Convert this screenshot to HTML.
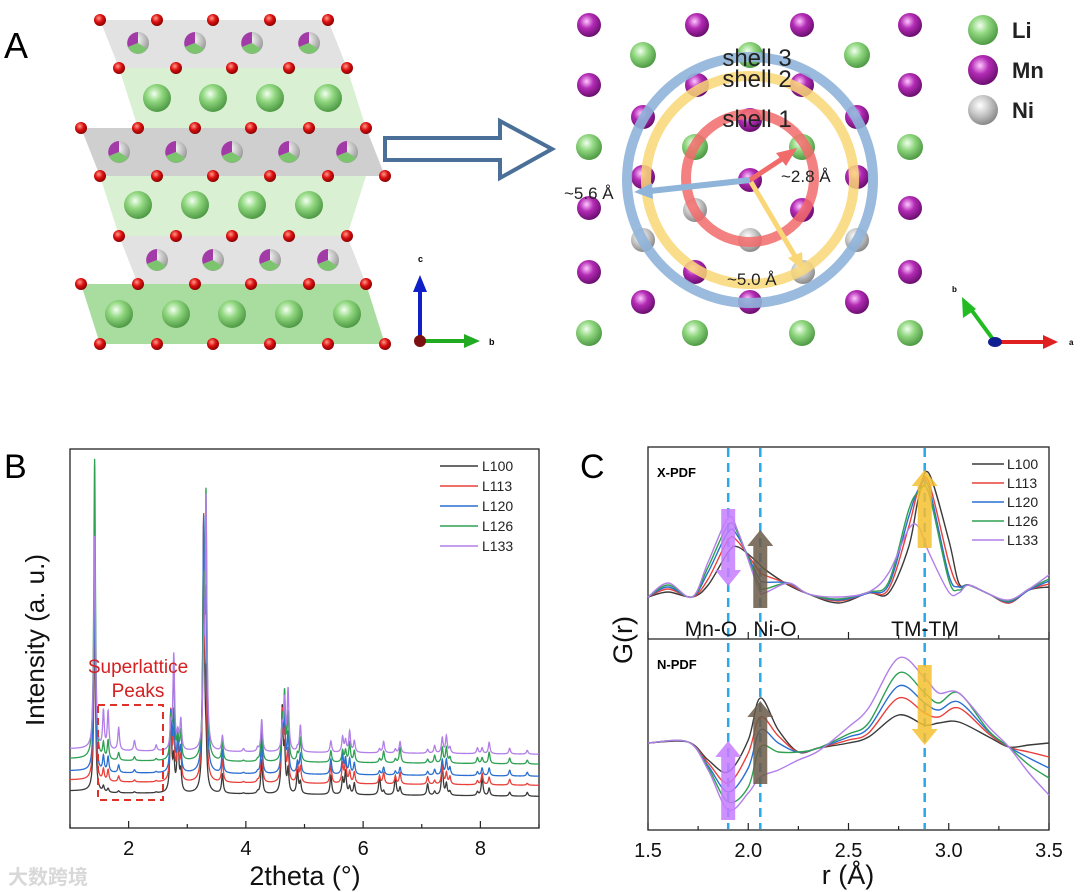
<!DOCTYPE html>
<html><head><meta charset="utf-8">
<style>
body{margin:0;background:#fff;}
svg{display:block;font-family:"Liberation Sans","Noto Sans CJK SC",sans-serif;}
</style></head>
<body>
<svg id="fig" width="1080" height="892" viewBox="0 0 1080 892" xmlns="http://www.w3.org/2000/svg">
<defs>
<radialGradient id="gLi" cx="40%" cy="35%" r="65%"><stop offset="0" stop-color="#f2fff0"/><stop offset=".45" stop-color="#8fd67e"/><stop offset="1" stop-color="#4f9a45"/></radialGradient>
<radialGradient id="gMn" cx="40%" cy="35%" r="65%"><stop offset="0" stop-color="#ffc8ff"/><stop offset=".45" stop-color="#b32bb5"/><stop offset="1" stop-color="#6c0f70"/></radialGradient>
<radialGradient id="gNi" cx="40%" cy="35%" r="65%"><stop offset="0" stop-color="#ffffff"/><stop offset=".5" stop-color="#c8c8c8"/><stop offset="1" stop-color="#8a8a8a"/></radialGradient>
<radialGradient id="gO" cx="40%" cy="35%" r="65%"><stop offset="0" stop-color="#ff9a8a"/><stop offset=".5" stop-color="#dd1111"/><stop offset="1" stop-color="#8a0000"/></radialGradient>
<radialGradient id="gTM" cx="40%" cy="35%" r="65%"><stop offset="0" stop-color="#ffffff"/><stop offset="1" stop-color="#9a9a9a"/></radialGradient>
</defs>

<text x="4" y="58" font-size="36">A</text>
<text x="4" y="478" font-size="34">B</text>
<text x="580" y="478" font-size="34">C</text>

<g id="panelA-left">
  <polygon points="100,20 328,20 347,68 119,68" fill="#e2e2e2"/>
  <polygon points="119,68 347,68 366,128 138,128" fill="#d9f0d3"/>
  <polygon points="81,128 366,128 385,176 100,176" fill="#cfcfcf"/>
  <polygon points="100,176 366,176 347,236 119,236" fill="#d9f0d3"/>
  <polygon points="119,236 347,236 366,284 138,284" fill="#e2e2e2"/>
  <polygon points="81,284 366,284 385,344 100,344" fill="#a9dc9f"/>
  <g id="structAtoms"></g>
</g>
<g>
  <line x1="420" y1="341" x2="420" y2="290" stroke="#1020c8" stroke-width="4"/>
  <polygon points="413,292 427,292 420,275" fill="#1020c8"/>
  <line x1="420" y1="341" x2="466" y2="341" stroke="#22aa22" stroke-width="4"/>
  <polygon points="464,334 464,348 480,341" fill="#22aa22"/>
  <circle cx="420" cy="341" r="6" fill="#7a1010"/>
  <text x="418" y="262" font-size="9" font-weight="bold">c</text>
  <text x="489" y="345" font-size="9" font-weight="bold">b</text>
</g>
<polygon points="385,138 500,138 500,121 552,149 500,178 500,160 385,160" fill="#fff" stroke="#4a6f98" stroke-width="4"/>

<g id="panelA-right">
  <g id="latAtoms"></g>
  <circle cx="750" cy="180" r="123" fill="none" stroke="#8fb4d9" stroke-width="10" opacity=".9"/>
  <circle cx="750" cy="180" r="104" fill="none" stroke="#f9d776" stroke-width="10" opacity=".85"/>
  <circle cx="750" cy="178" r="64" fill="none" stroke="#f26b6b" stroke-width="10" opacity=".85"/>
  <line x1="750" y1="180" x2="785" y2="157" stroke="#f26b6b" stroke-width="5"/>
  <polygon points="776,153 797,148 786,166" fill="#f26b6b"/>
  <line x1="750" y1="180" x2="650" y2="191" stroke="#8fb4d9" stroke-width="6"/>
  <polygon points="652,183 634,192 653,199" fill="#8fb4d9"/>
  <line x1="751" y1="182" x2="796" y2="258" stroke="#f9d776" stroke-width="5"/>
  <polygon points="788,258 803,270 802,252" fill="#f9d776"/>
  <text x="757" y="66" font-size="24" text-anchor="middle" fill="#222">shell 3</text>
  <text x="757" y="87" font-size="24" text-anchor="middle" fill="#222">shell 2</text>
  <text x="757" y="127" font-size="24" text-anchor="middle" fill="#222">shell 1</text>
  <text x="781" y="182" font-size="17" fill="#222">~2.8 Å</text>
  <text x="564" y="199" font-size="17" fill="#222">~5.6 Å</text>
  <text x="727" y="285" font-size="17" fill="#222">~5.0 Å</text>
</g>
<g>
  <circle cx="983" cy="30" r="15" fill="url(#gLi)"/><text x="1012" y="38" font-size="22" font-weight="bold" fill="#222">Li</text>
  <circle cx="983" cy="70" r="15" fill="url(#gMn)"/><text x="1012" y="78" font-size="22" font-weight="bold" fill="#222">Mn</text>
  <circle cx="983" cy="110" r="15" fill="url(#gNi)"/><text x="1012" y="118" font-size="22" font-weight="bold" fill="#222">Ni</text>
</g>
<g>
  <line x1="995" y1="342" x2="1045" y2="342" stroke="#e02020" stroke-width="4"/>
  <polygon points="1043,335 1043,349 1058,342" fill="#e02020"/>
  <line x1="995" y1="342" x2="970" y2="308" stroke="#22bb22" stroke-width="4"/>
  <polygon points="963,318 976,309 962,297" fill="#22bb22"/>
  <ellipse cx="995" cy="342" rx="7" ry="5" fill="#102090"/>
  <text x="952" y="292" font-size="8" font-weight="bold">b</text>
  <text x="1069" y="345" font-size="8" font-weight="bold">a</text>
</g>

<g id="panelB">
  <rect x="70" y="449" width="469" height="379" fill="none" stroke="#222" stroke-width="1.3"/>
  <g id="bTicks"></g>
  <g id="bSeries"></g>
  <rect x="98" y="705" width="65" height="95" fill="none" stroke="#e0302a" stroke-width="2" stroke-dasharray="7,5"/>
  <text x="138" y="673" font-size="19" fill="#d42020" text-anchor="middle">Superlattice</text>
  <text x="138" y="697" font-size="19" fill="#d42020" text-anchor="middle">Peaks</text>
  <text transform="translate(44,640) rotate(-90)" font-size="26" text-anchor="middle" fill="#111">Intensity (a. u.)</text>
  <text x="305" y="885" font-size="27" text-anchor="middle" fill="#111">2theta (°)</text>
  <g id="bLegend"></g>
</g>
<text x="8" y="884" font-size="20" fill="#d8d8d8" font-weight="bold">大数跨境</text>

<g id="panelC">
  <rect x="648" y="447" width="401" height="383" fill="none" stroke="#222" stroke-width="1.3"/>
  <line x1="648" y1="639" x2="1049" y2="639" stroke="#222" stroke-width="1.3"/>
  <g id="cTicks"></g>
  <g id="cDashed"></g>
  <g id="cSeries"></g>
  <g id="cArrows"></g>
  <text x="657" y="477" font-size="13" font-weight="bold">X-PDF</text>
  <text x="657" y="669" font-size="13" font-weight="bold">N-PDF</text>
  <text x="711" y="636" font-size="21" text-anchor="middle" fill="#111">Mn-O</text>
  <text x="775" y="636" font-size="21" text-anchor="middle" fill="#111">Ni-O</text>
  <text x="925" y="636" font-size="21" text-anchor="middle" fill="#111">TM-TM</text>
  <text transform="translate(632,640) rotate(-90)" font-size="27" text-anchor="middle" fill="#111">G(r)</text>
  <text x="848" y="884" font-size="27" text-anchor="middle" fill="#111">r (Å)</text>
  <g id="cLegend"></g>
</g>
</svg>
<script>
// ===== Panel B data =====
const seriesNames = ["L100","L113","L120","L126","L133"];
const seriesColors = ["#3a3a3a","#e8403a","#2a6fd0","#2ea052","#b27ee8"];
const peakPos = [1.42,1.57,1.65,1.83,2.10,2.47,2.72,2.77,2.84,2.89,3.28,3.32,3.60,3.96,4.20,4.27,4.62,4.66,4.72,4.88,4.93,5.45,5.65,5.70,5.77,5.85,6.28,6.35,6.55,6.63,7.10,7.22,7.35,7.42,7.48,7.95,8.03,8.15,8.5,8.8];
const hL100 = [45,1.5,1,0.5,0.3,0.2,21,8,16,5,71,8,5,0.2,0.5,9,22,10,6,6,3,5,4,6,2,3,5,1,5,2,3,1,8,3,1,1,5,2,1,1];
const hL113 = [48,3,3,1.5,0.5,0.3,18,12,12,6,68,20,6,0.3,0.5,10,18,12,8,5,4,5,5,6,3,3,2,3,2,3,2,1,5,3,2,1,3,2,1.5,0.5];
const hL120 = [50,4,4,2,0.8,0.3,15,15,10,6,62,40,6,0.3,0.5,10,14,14,10,3,5,4,5,4,4,3,1,2,1,2,1,1.5,4,4,2,1,2,2,1.5,1];
const hL126 = [79,4,5,2,1,0.5,10,24,6,7,40,66,5,0.3,0.5,10,10,17,12,2,6,3,3,3,5,3,1,3,1,4,1,2,4,4,1.5,1.5,1.5,3,1.5,1];
const hL133 = [56,10,10,6,2.7,1.5,6,25,4,8,20,65,4,0.8,1,8.5,6,13,16,1,7,3,4,3,5.5,3,1,3,1,3,1,2,4,4.5,1.5,1.5,1.5,3,1.5,1];
const baseLevels = [9.2,12.1,14.5,17.7,20.3];
const xrdTicks = [2,4,6,8];

// ===== Panel C data =====
const rX = [1.5,1.6,1.72,1.8,1.9,1.95,2.05,2.08,2.2,2.3,2.45,2.6,2.7,2.8,2.85,2.9,3.0,3.05,3.1,3.2,3.3,3.4,3.5];
const gX100 = [0,5,0,12,45,50,34,28,12,3,-6,4,4,50,100,124,57,14,12,3,-6,7,10];
const gX113 = [0,8,0,18,57,55,27,22,13,3,-4,4,8,70,108,115,35,11,12,3,-6,7,13];
const gX120 = [0,10,0,25,65,60,20,15,14,3,-3,4,12,80,108,110,22,10,12,3,-5,7,16];
const gX126 = [0,12,0,30,72,63,14,8,14,3,-2,5,15,87,105,104,17,7,12,3,-4,8,18];
const gX133 = [0,14,0,35,79,65,9,4,14,3,0,5,24,68,70,45,5,4,12,3,-3,8,22];
const rN = [1.5,1.7,1.8,1.9,2.0,2.06,2.15,2.25,2.35,2.5,2.6,2.75,2.88,2.95,3.05,3.2,3.3,3.4,3.5];
const gN100 = [0,1,-17,-29,3,45,13,-9,-5,0,6,28,18,20,21,6,-4,-2,0];
const gN113 = [0,1,-20,-40,-10,26,7,-9,-5,3,10,45,30,26,35,9,-4,-9,-14];
const gN120 = [0,1,-23,-49,-25,13,0,-9,-5,6,15,57,40,33,41,11,-4,-15,-25];
const gN126 = [0,1,-25,-59,-44,-4,-9,-9,-5,9,20,70,50,40,50,12,-4,-22,-35];
const gN133 = [0,1,-27,-67,-50,-34,-27,-17,-8,16,35,85,65,50,50,16,-4,-30,-52];
const pdfTicks = [1.5,2.0,2.5,3.0,3.5];
const refLines = [1.9,2.06,2.88];

const NS = "http://www.w3.org/2000/svg";
function mk(tag, attrs, parent){const e=document.createElementNS(NS,tag);for(const k in attrs)e.setAttribute(k,attrs[k]);parent.appendChild(e);return e;}

(function(){
  const g = document.getElementById('structAtoms');
  const liRows = [[98,[157,213,270,328]],[205,[138,195,252,309]],[314,[119,176,232,289,347]]];
  const tmRows = [[43,[138,195,252,309]],[152,[119,176,232,289,347]],[260,[157,213,270,328]]];
  const oRows = [[20,[100,157,213,270,328]],[68,[119,176,232,289,347]],[128,[81,138,195,251,309,366]],[176,[100,157,213,270,328,385]],[236,[119,176,232,289,347]],[284,[81,138,195,251,309,366]],[344,[100,157,213,270,328,385]]];
  liRows.forEach(([y,xs])=>xs.forEach(x=>{
    const c = mk('circle',{cx:x,cy:y,r:14,fill:'url(#gLi)'},g);
    
    
  }));
  tmRows.forEach(([y,xs])=>xs.forEach(x=>{
    const c = mk('circle',{cx:x,cy:y,r:11,fill:'url(#gTM)'},g);
    
    
    mk('path',{d:`M${x},${y} L${x},${y-11} A11,11 0 0 0 ${x-10},${y+4} Z`,fill:'#a23aa8'},g);
    mk('path',{d:`M${x},${y} L${x-10},${y+4} A11,11 0 0 0 ${x+9},${y+6} Z`,fill:'#7cc46e'},g);
  }));
  oRows.forEach(([y,xs])=>xs.forEach(x=>{
    const c = mk('circle',{cx:x,cy:y,r:6,fill:'url(#gO)'},g);
    
    
  }));
  const lg = document.getElementById('latAtoms');
  const mn = [[589,25],[697,25],[802,25],[910,25],[589,85],[697,85],[802,85],[910,85],[643,117],[750,120],[857,117],[643,177],[857,177],[750,180],[589,208],[910,208],[802,210],[643,302],[857,302],[750,302],[589,272],[695,272],[910,272]];
  const li = [[643,55],[857,55],[750,55],[589,147],[695,147],[802,147],[910,147],[589,333],[695,333],[802,333],[910,333]];
  const ni = [[643,240],[857,240],[750,240],[695,210],[803,272]];
  li.forEach(([x,y])=>{const c=mk('circle',{cx:x,cy:y,r:13,fill:'url(#gLi)'},lg);
    
    });
  mn.forEach(([x,y])=>{const c=mk('circle',{cx:x,cy:y,r:12,fill:'url(#gMn)'},lg);
    
    });
  ni.forEach(([x,y])=>{const c=mk('circle',{cx:x,cy:y,r:12,fill:'url(#gNi)'},lg);
    
    });
})();

const bX0=70,bX1=539,bY0=828,bY1=449;
function bx(v){return bX0+(v-1)/(9-1)*(bX1-bX0);}
function by(v){return bY0-v/100*(bY0-bY1);}
(function(){
  const t=document.getElementById('bTicks');
  for(let v=1;v<=9;v++){
    const major = v%2===0;
    const l=mk('line',{x1:bx(v),x2:bx(v),y1:bY0,y2:bY0-(major?7:4),stroke:'#222','stroke-width':1.2},t);
    
    
  }
  xrdTicks.forEach(v=>{
    const tx=mk('text',{x:bx(v),y:bY0+27,'font-size':20,'text-anchor':'middle',fill:'#111'},t);
    tx.textContent=v;
    
    
  });
  const heights=[hL100,hL113,hL120,hL126,hL133];
  const s=document.getElementById('bSeries');
  const gam=0.017;
  heights.forEach((h,si)=>{
    let d='';
    for(let x=1.0;x<=9.0001;x+=0.003){
      let v=baseLevels[si]-0.12*Math.max(0,x-2)+(x<1.45?0.6:0);
      for(let k=0;k<peakPos.length;k++){const dx=(x-peakPos[k])/gam;v+=h[k]/(1+dx*dx);}
      d+=(d?'L':'M')+bx(x).toFixed(2)+','+by(v).toFixed(2);
    }
    const p=mk('path',{d:d,fill:'none',stroke:seriesColors[si],'stroke-width':1.3},s);
    
    
  });
  const lg=document.getElementById('bLegend');
  seriesNames.forEach((n,i)=>{
    const y=466+i*20;
    const l=mk('line',{x1:440,x2:478,y1:y,y2:y,stroke:seriesColors[i],'stroke-width':1.5},lg);
    
    
    const tx=mk('text',{x:482,y:y+5,'font-size':14,fill:'#222'},lg);
    tx.textContent=n;
    
    
  });
})();

const cX0=648,cX1=1049;
function cx(r){return cX0+(r-1.5)/2*(cX1-cX0);}
function cyUp(g){return 597-g;}
function cyLo(g){return 743-g;}
function smoothPath(xs,ys){
  const pts=xs.map((x,i)=>[x,ys[i]]);
  let d='M'+pts[0][0].toFixed(2)+','+pts[0][1].toFixed(2);
  for(let i=0;i<pts.length-1;i++){
    const p0=pts[Math.max(0,i-1)],p1=pts[i],p2=pts[i+1],p3=pts[Math.min(pts.length-1,i+2)];
    const c1=[p1[0]+(p2[0]-p0[0])/6,p1[1]+(p2[1]-p0[1])/6];
    const c2=[p2[0]-(p3[0]-p1[0])/6,p2[1]-(p3[1]-p1[1])/6];
    d+='C'+c1.map(v=>v.toFixed(2)).join(',')+' '+c2.map(v=>v.toFixed(2)).join(',')+' '+p2[0].toFixed(2)+','+p2[1].toFixed(2);
  }
  return d;
}
(function(){
  const t=document.getElementById('cTicks');
  for(let r=1.5;r<=3.5001;r+=0.25){
    const major=Math.abs(r*2-Math.round(r*2))<1e-6;
    [830,639].forEach(yb=>{
      const l=mk('line',{x1:cx(r),x2:cx(r),y1:yb,y2:yb-(major?7:4),stroke:'#222','stroke-width':1.2},t);
      
      
    });
  }
  pdfTicks.forEach(r=>{
    const tx=mk('text',{x:cx(r),y:857,'font-size':20,'text-anchor':'middle',fill:'#111'},t);
    tx.textContent=r.toFixed(1);
    
    
  });
  const dg=document.getElementById('cDashed');
  refLines.forEach(r=>{
    const l=mk('line',{x1:cx(r),x2:cx(r),y1:448,y2:829,stroke:'#2aa8e8','stroke-width':2.5,'stroke-dasharray':'9,6'},dg);
    
    
  });
  const s=document.getElementById('cSeries');
  const up=[gX100,gX113,gX120,gX126,gX133], lo=[gN100,gN113,gN120,gN126,gN133];
  up.forEach((g,i)=>{
    const p=mk('path',{d:smoothPath(rX.map(cx),g.map(cyUp)),fill:'none',stroke:seriesColors[i],'stroke-width':1.4},s);
    
    
  });
  lo.forEach((g,i)=>{
    const p=mk('path',{d:smoothPath(rN.map(cx),g.map(cyLo)),fill:'none',stroke:seriesColors[i],'stroke-width':1.4},s);
    
    
  });
  const a=document.getElementById('cArrows');
  function upArrow(x,yTop,yBot,col,name){
    const e=mk('polygon',{points:`${x-7},${yBot} ${x+7},${yBot} ${x+7},${yTop+16} ${x+13},${yTop+16} ${x},${yTop} ${x-13},${yTop+16} ${x-7},${yTop+16}`,fill:col,opacity:.85},a);
    
    
  }
  function downArrow(x,yTop,yBot,col,name){
    const e=mk('polygon',{points:`${x-7},${yTop} ${x+7},${yTop} ${x+7},${yBot-16} ${x+13},${yBot-16} ${x},${yBot} ${x-13},${yBot-16} ${x-7},${yBot-16}`,fill:col,opacity:.85},a);
    
    
  }
  downArrow(cx(1.9),509,586,'#c77dff','mn-o-arrow-xpdf');
  upArrow(cx(2.06),530,608,'#6b5a48','ni-o-arrow-xpdf');
  upArrow(cx(2.88),470,548,'#f5c030','tm-arrow-xpdf');
  downArrow(cx(2.88),665,745,'#f5c030','tm-arrow-npdf');
  upArrow(cx(1.9),741,820,'#c77dff','mn-o-arrow-npdf');
  upArrow(cx(2.06),701,784,'#6b5a48','ni-o-arrow-npdf');
  const lg=document.getElementById('cLegend');
  seriesNames.forEach((n,i)=>{
    const y=464+i*19;
    const l=mk('line',{x1:972,x2:1004,y1:y,y2:y,stroke:seriesColors[i],'stroke-width':1.5},lg);
    
    
    const tx=mk('text',{x:1007,y:y+5,'font-size':14,fill:'#222'},lg);
    tx.textContent=n;
    
    
  });
})();
</script>
</body></html>
